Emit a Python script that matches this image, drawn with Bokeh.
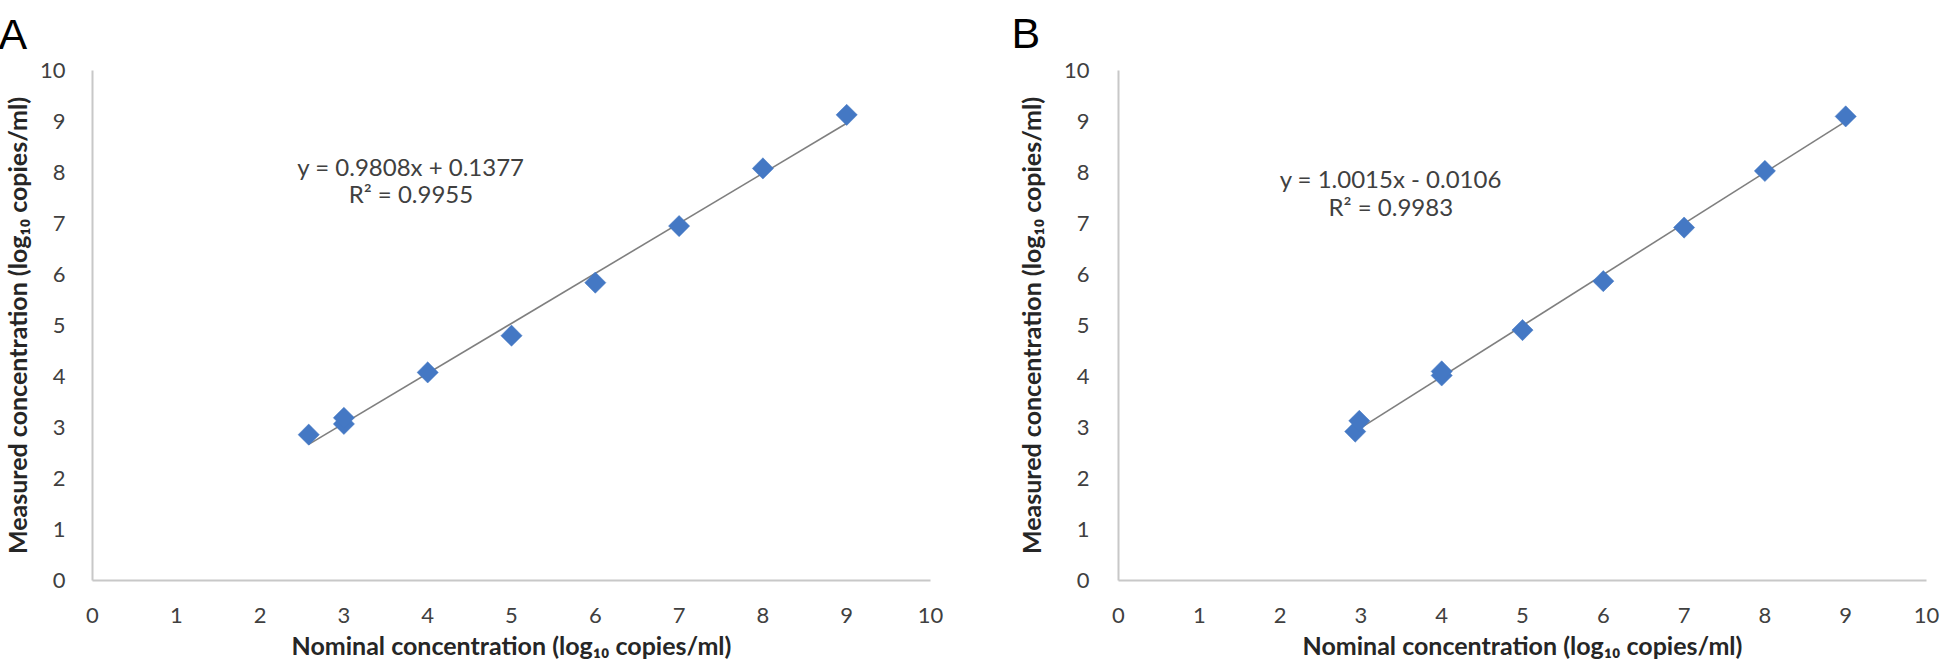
import numpy as np
from bokeh.plotting import figure
from bokeh.layouts import row
from bokeh.models import Range1d, Label, FixedTicker
from bokeh.embed import file_html
from bokeh.resources import INLINE

# ---------------- data ----------------
ticks = list(range(0, 11))

a_nominal = [2.58, 3.0, 3.0, 4.0, 5.0, 6.0, 7.0, 8.0, 9.0]
a_measured = [2.86, 3.07, 3.19, 4.08, 4.80, 5.84, 6.95, 8.08, 9.13]
a_slope, a_intercept = 0.9808, 0.1377
a_equation = ["y = 0.9808x + 0.1377", "R² = 0.9955"]

b_nominal = [2.93, 2.98, 4.0, 4.0, 5.0, 6.0, 7.0, 8.0, 9.0]
b_measured = [2.92, 3.13, 4.02, 4.10, 4.91, 5.87, 6.92, 8.03, 9.10]
b_slope, b_intercept = 1.0015, -0.0106
b_equation = ["y = 1.0015x - 0.0106", "R² = 0.9983"]

x_title = "Nominal concentration (log₁₀ copies/ml)"
y_title = "Measured concentration (log₁₀ copies/ml)"
panel_letters = ["A", "B"]

FONT = "Lato"
H = 672


def panel(letter, xs, ys, slope, intercept, eq, eq_x, eq_y, width,
          bl, br, bt, bb, ylabel_standoff, ytitle_standoff, letter_offset, letter_standoff):
    p = figure(width=width, height=H, x_range=Range1d(0, 10), y_range=Range1d(0, 10),
               output_backend="svg", toolbar_location=None,
               min_border_left=bl, min_border_right=br, min_border_top=bt,
               min_border_bottom=bb)
    p.background_fill_color = "white"
    p.border_fill_color = "white"
    p.outline_line_color = None
    p.grid.visible = False

    p.title.text = letter
    p.title.text_font = "Liberation Sans"
    p.title.text_font_size = "43px"
    p.title.text_font_style = "normal"
    p.title.text_color = "black"
    p.title.align = "left"
    p.title.vertical_align = "top"
    p.title.standoff = letter_standoff
    p.title.offset = letter_offset

    for ax in (p.xaxis, p.yaxis):
        ax.ticker = FixedTicker(ticks=ticks)
        ax.axis_line_color = "#c8c8c8"
        ax.axis_line_width = 2
        ax.major_tick_line_color = None
        ax.minor_tick_line_color = None
        ax.major_label_text_font = FONT
        ax.major_label_text_font_size = "22px"
        ax.major_label_text_color = "#404040"
        ax.axis_label_text_font = FONT
        ax.axis_label_text_font_style = "bold"
        ax.axis_label_text_font_size = "25px"
        ax.axis_label_text_color = "#262626"
    p.xaxis.axis_label = x_title
    p.yaxis.axis_label = y_title
    p.xaxis.major_label_standoff = 21
    p.yaxis.major_label_standoff = ylabel_standoff
    p.xaxis.axis_label_standoff = 4
    p.yaxis.axis_label_standoff = ytitle_standoff

    xs = np.asarray(xs)
    lx = np.array([xs.min(), xs.max()])
    p.line(lx, slope * lx + intercept, line_color="#7f7f7f", line_width=1.6)
    p.scatter(xs, ys, marker="square", angle=np.pi / 4, size=15,
              fill_color="#4478c4", line_color="#4478c4", line_width=0.5)

    for i, t in enumerate(eq):
        p.add_layout(Label(x=eq_x, y=eq_y[i], text=t, text_font=FONT,
                           text_font_size="24px", text_color="#404040",
                           text_align="center", text_baseline="middle"))
    return p


pA = panel(panel_letters[0], a_nominal, a_measured, a_slope, a_intercept, a_equation,
           3.80, [8.11, 7.58], 990, 96, 56, 72, 88, 21, 5, -94, 22)
pB = panel(panel_letters[1], b_nominal, b_measured, b_slope, b_intercept, b_equation,
           3.37, [7.88, 7.33], 956, 132, 16, 74, 88, 23, 15, -107, 24)

layout = row(pA, pB, margin=(-4, -4, -4, -4))
open("out.html", "w").write(file_html(layout, INLINE))
